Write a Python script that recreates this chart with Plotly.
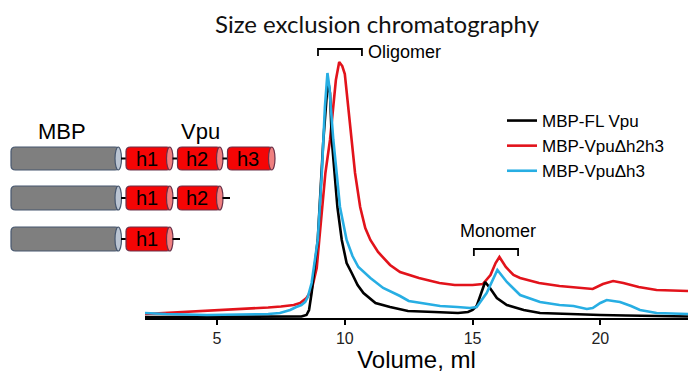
import plotly.graph_objects as go

# ---------------- data ----------------
red_x = [2.18, 3.0, 4.0, 5.0, 6.0, 7.0, 7.5, 8.0, 8.25, 8.5, 8.7, 8.8, 8.9, 9.0, 9.1, 9.24, 9.42, 9.55, 9.65, 9.78,
         9.9, 10.0, 10.14, 10.27, 10.4, 10.6, 10.8, 11.0, 11.3, 11.77, 12.16, 12.9, 13.7, 14.3, 15.0, 15.4, 15.7,
         15.9, 16.05, 16.3, 16.6, 16.86, 17.6, 18.4, 18.9, 19.4, 19.7, 20.1, 20.5, 20.9, 21.5, 22.2, 23.43]
red_y = [4, 5, 6.5, 7.5, 9, 10.5, 11.5, 13, 15, 20, 28, 38, 50, 78, 108, 145, 178, 210, 238, 256,
         252, 244, 211, 178, 145, 111, 90, 78, 66, 53, 46, 40, 35, 33, 33, 34, 43,
         55, 61, 51, 43, 40, 35, 32, 31, 30, 29, 34, 37, 35, 31, 28, 27]

blue_x = [2.18, 3.0, 4.6, 6.0, 7.0, 7.46, 7.86, 8.1, 8.3, 8.45, 8.55, 8.7, 8.85, 8.94, 9.1, 9.22, 9.32,
          9.4, 9.45, 9.55, 9.68, 9.81, 10.07, 10.3, 10.53, 11.0, 11.5, 12.16, 12.5, 13.0, 13.73, 14.4, 14.9,
          15.16, 15.55, 15.97, 16.34, 16.86, 17.64, 18.4, 18.95, 19.47, 19.7, 20.0, 20.25, 20.5, 20.77,
          21.2, 21.55, 22.2, 23.43]
blue_y = [5, 4, 3, 3.5, 4, 5, 8, 11, 13, 16, 21, 35, 60, 78, 145, 211, 245,
          230, 211, 178, 145, 111, 78, 62, 51, 40, 30, 22, 17, 15, 12, 11, 10,
          11, 25, 48, 36, 23, 16, 13, 12, 9, 10, 15, 18, 17, 16,
          12, 8, 5, 4]

black_x = [2.18, 5.0, 8.0, 8.3, 8.5, 8.6, 8.7, 8.8, 8.94, 9.16, 9.3, 9.36, 9.42, 9.49, 9.71, 9.88, 10.07,
           10.27, 10.5, 10.73, 11.2, 11.77, 12.47, 13.5, 14.43, 14.82, 15.0, 15.16, 15.36, 15.49, 15.68,
           15.95, 16.34, 17.0, 17.64, 18.5, 20.0, 21.0, 22.0, 23.43]
black_y = [1, 1, 1, 1.5, 3, 8, 25, 50, 78, 178, 225, 235, 225, 178, 111, 78, 55,
           45, 33, 25, 15, 11, 7, 6, 5, 6, 8, 12, 28, 36, 30,
           20, 13, 8, 5, 4, 3, 2.5, 2, 1.5]

series_names = ["MBP-FL Vpu", "MBP-VpuΔh2h3", "MBP-VpuΔh3"]
series_colors = ["#000000", "#e2131b", "#27aee3"]

tick_vals = [5, 10, 15, 20]
tick_text = ["5", "10", "15", "20"]

# ---------------- layout geometry ----------------
# the page body margin is removed by a post script, so the figure fills the window
W, H = 688, 373
ML, MR, MT = 145, 0, 40
BOTTOM = 318
MB = H - BOTTOM
PW = W - ML - MR
PH = BOTTOM - MT

FONT = "Liberation Sans, Arial, sans-serif"


def px(x):
    """page pixel x -> paper x"""
    return (x - ML) / PW


def py(y):
    """page pixel y -> paper y"""
    return (BOTTOM - y) / PH


fig = go.Figure()

# draw order: red, black, blue ; legend order black, red, blue
fig.add_trace(go.Scatter(x=red_x, y=red_y, mode="lines", name=series_names[1],
                         line=dict(color=series_colors[1], width=2.6), legendrank=2))
fig.add_trace(go.Scatter(x=black_x, y=black_y, mode="lines", name=series_names[0],
                         line=dict(color=series_colors[0], width=2.6), legendrank=1))
fig.add_trace(go.Scatter(x=blue_x, y=blue_y, mode="lines", name=series_names[2],
                         line=dict(color=series_colors[2], width=2.6), legendrank=3))

shapes = []
annotations = []


def rounded_rect_path(x0, x1, yt, yb, r):
    pts = [
        ("M", [(x0 + r, yt)]),
        ("L", [(x1 - r, yt)]),
        ("Q", [(x1, yt), (x1, yt + r)]),
        ("L", [(x1, yb - r)]),
        ("Q", [(x1, yb), (x1 - r, yb)]),
        ("L", [(x0 + r, yb)]),
        ("Q", [(x0, yb), (x0, yb - r)]),
        ("L", [(x0, yt + r)]),
        ("Q", [(x0, yt), (x0 + r, yt)]),
    ]
    s = ""
    for cmd, pl in pts:
        s += cmd + " " + " ".join(f"{px(a):.5f},{py(b):.5f}" for a, b in pl) + " "
    return s + "Z"


def cylinder(x0, x1, yt, yb, fill, capfill, border):
    shapes.append(dict(type="path", xref="paper", yref="paper",
                       path=rounded_rect_path(x0, x1 - 2, yt, yb, 4.5),
                       fillcolor=fill, line=dict(color=border, width=1.2), layer="above"))
    shapes.append(dict(type="circle", xref="paper", yref="paper",
                       x0=px(x1 - 6.5), x1=px(x1), y0=py(yb), y1=py(yt),
                       fillcolor=capfill, line=dict(color=border, width=1.2), layer="above"))


def connector(x0, x1, ym):
    shapes.append(dict(type="line", xref="paper", yref="paper",
                       x0=px(x0), x1=px(x1), y0=py(ym), y1=py(ym),
                       line=dict(color="black", width=2), layer="above"))


GREY, GREY_CAP, GREY_B = "#7f7f7f", "#bac4d2", "#46566e"
RED, RED_CAP, RED_B = "#f50505", "#f08080", "#6a3048"

rows = [(147, 170, 3), (186, 210, 2), (227, 251, 1)]
helix_x = [(126, 173), (177.5, 223), (227.5, 275)]
labels = ["h1", "h2", "h3"]
for yt, yb, n in rows:
    ym = (yt + yb) / 2
    cylinder(11, 121.5, yt, yb, GREY, GREY_CAP, GREY_B)
    connector(121, 126.5, ym)
    for i in range(n):
        a, b = helix_x[i]
        if i > 0:
            connector(helix_x[i - 1][1] - 0.5, a + 0.5, ym)
        cylinder(a, b, yt, yb, RED, RED_CAP, RED_B)
        annotations.append(dict(xref="paper", yref="paper", x=px((a + b - 6) / 2), y=py(ym),
                                text=labels[i], showarrow=False, xanchor="center", yanchor="middle",
                                font=dict(family=FONT, size=20, color="black")))
    if n < 3:
        last = helix_x[n - 1][1]
        connector(last - 0.5, last + 7, ym)

annotations.append(dict(xref="paper", yref="paper", x=px(62), y=py(131), text="MBP", showarrow=False,
                        xanchor="center", yanchor="middle", font=dict(family=FONT, size=22, color="black")))
annotations.append(dict(xref="paper", yref="paper", x=px(200), y=py(131), text="Vpu", showarrow=False,
                        xanchor="center", yanchor="middle", font=dict(family=FONT, size=22, color="black")))

# brackets (data coordinates)
oligo = (8.95, 10.67, 262, 269)
mono = (15.05, 16.78, 62, 69)
for x0, x1, ylo, yhi in (oligo, mono):
    shapes.append(dict(type="path", xref="x", yref="y",
                       path=f"M {x0},{ylo} L {x0},{yhi} L {x1},{yhi} L {x1},{ylo}",
                       line=dict(color="black", width=1.8)))
annotations.append(dict(xref="x", yref="y", x=10.82, y=266, text="Oligomer", showarrow=False,
                        xanchor="left", yanchor="middle", font=dict(family=FONT, size=18, color="black")))
annotations.append(dict(xref="x", yref="y", x=16.0, y=87, text="Monomer", showarrow=False,
                        xanchor="center", yanchor="middle", font=dict(family=FONT, size=18, color="black")))

fig.update_layout(
    width=W, height=H,
    margin=dict(l=ML, r=MR, t=MT, b=MB, pad=0),
    paper_bgcolor="white", plot_bgcolor="white",
    showlegend=True,
    legend=dict(x=px(502), y=py(103), xanchor="left", yanchor="top",
                font=dict(family=FONT, size=17, color="black"),
                bgcolor="rgba(0,0,0,0)", borderwidth=0, tracegroupgap=0),
    title=dict(text="Size exclusion chromatography", x=px(377), xref="paper", xanchor="center",
               y=1 - 25 / H, yanchor="middle",
               font=dict(family="Lato, sans-serif", size=24, color="#111111")),
    xaxis=dict(range=[2.18, 23.43], showgrid=False, zeroline=False, showline=True,
               linecolor="black", linewidth=1.6, ticks="outside", ticklen=5, tickwidth=1.5,
               tickcolor="black", tickvals=tick_vals, ticktext=tick_text,
               tickfont=dict(family=FONT, size=16, color="#222222"),
               title=dict(text="Volume, ml", font=dict(family=FONT, size=24, color="black"), standoff=6)),
    yaxis=dict(range=[0, PH], visible=False),
    shapes=shapes,
    annotations=annotations,
)

fig.write_html(
    "out.html",
    config={"displayModeBar": False},
    post_script="document.body.style.margin='0px';document.body.style.padding='0px';"
                "document.body.style.overflow='hidden';",
)
